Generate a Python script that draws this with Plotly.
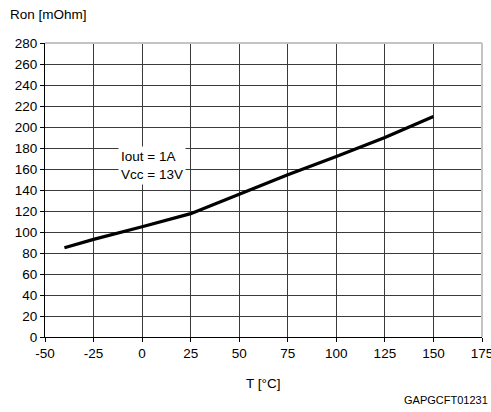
import plotly.graph_objects as go

temps = [-40, -25, 0, 25, 50, 75, 100, 125, 150]
ron = [85, 93, 105, 117.5, 136, 154.5, 172, 190, 210]
x_ticks = [-50, -25, 0, 25, 50, 75, 100, 125, 150, 175]
y_ticks = [0, 20, 40, 60, 80, 100, 120, 140, 160, 180, 200, 220, 240, 260, 280]

FONT = "Liberation Sans, Arial, sans-serif"
FS = 13.5

fig = go.Figure()
fig.add_trace(go.Scatter(x=temps, y=ron, mode="lines",
                         line=dict(color="black", width=3.2), showlegend=False))

L, R, T, B = 45, 9, 43, 75
W, H = 491, 412
pw, ph = W - L - R, H - T - B

fig.update_layout(
    width=W, height=H,
    margin=dict(l=L, r=R, t=T, b=B, pad=0, autoexpand=False),
    plot_bgcolor="white", paper_bgcolor="white",
    font=dict(family=FONT, size=FS, color="black"),
    xaxis=dict(range=[-50, 175], tickvals=x_ticks, ticktext=[str(v) for v in x_ticks],
               showgrid=True, gridcolor="#3a3a3a", gridwidth=1, automargin=False,
               showline=True, linecolor="black", linewidth=1,
               ticks="outside", ticklen=4, tickcolor="black", zeroline=False,
               ticklabeloverflow="allow", tickfont=dict(size=FS)),
    yaxis=dict(range=[0, 280], tickvals=y_ticks, ticktext=[str(v) for v in y_ticks],
               showgrid=True, gridcolor="#3a3a3a", gridwidth=1, automargin=False,
               showline=True, linecolor="black", linewidth=1,
               ticks="outside", ticklen=4, tickcolor="black", zeroline=False,
               ticklabeloverflow="allow", tickfont=dict(size=FS)),
)

# light gray top/right frame
fig.add_shape(type="line", xref="paper", yref="paper", x0=0, x1=1, y0=1, y1=1,
              line=dict(color="#c4c4c4", width=2))
fig.add_shape(type="line", xref="paper", yref="paper", x0=1, x1=1, y0=0, y1=1,
              line=dict(color="#c4c4c4", width=2))

fig.add_annotation(x=5, y=163, xref="x", yref="y", text="Iout = 1A<br>Vcc = 13V",
                   showarrow=False, align="left", bgcolor="white",
                   font=dict(size=FS), borderpad=2)

fig.add_annotation(x=(8 - L) / pw, y=(H - B - 15) / ph, xref="paper", yref="paper",
                   text="Ron [mOhm]", showarrow=False, xanchor="left", yanchor="middle",
                   font=dict(size=FS))
fig.add_annotation(x=(263 - L) / pw, y=(H - B - 383) / ph, xref="paper", yref="paper",
                   text="T [°C]", showarrow=False, xanchor="center", yanchor="middle",
                   font=dict(size=FS))
fig.add_annotation(x=(489 - L) / pw, y=(H - B - 400) / ph, xref="paper", yref="paper",
                   text="GAPGCFT01231", showarrow=False, xanchor="right", yanchor="middle",
                   font=dict(size=11), borderpad=0)

fig.write_html("out.html", config={"displayModeBar": False},
               post_script="document.body.style.margin='0';document.body.style.overflow='hidden';")
